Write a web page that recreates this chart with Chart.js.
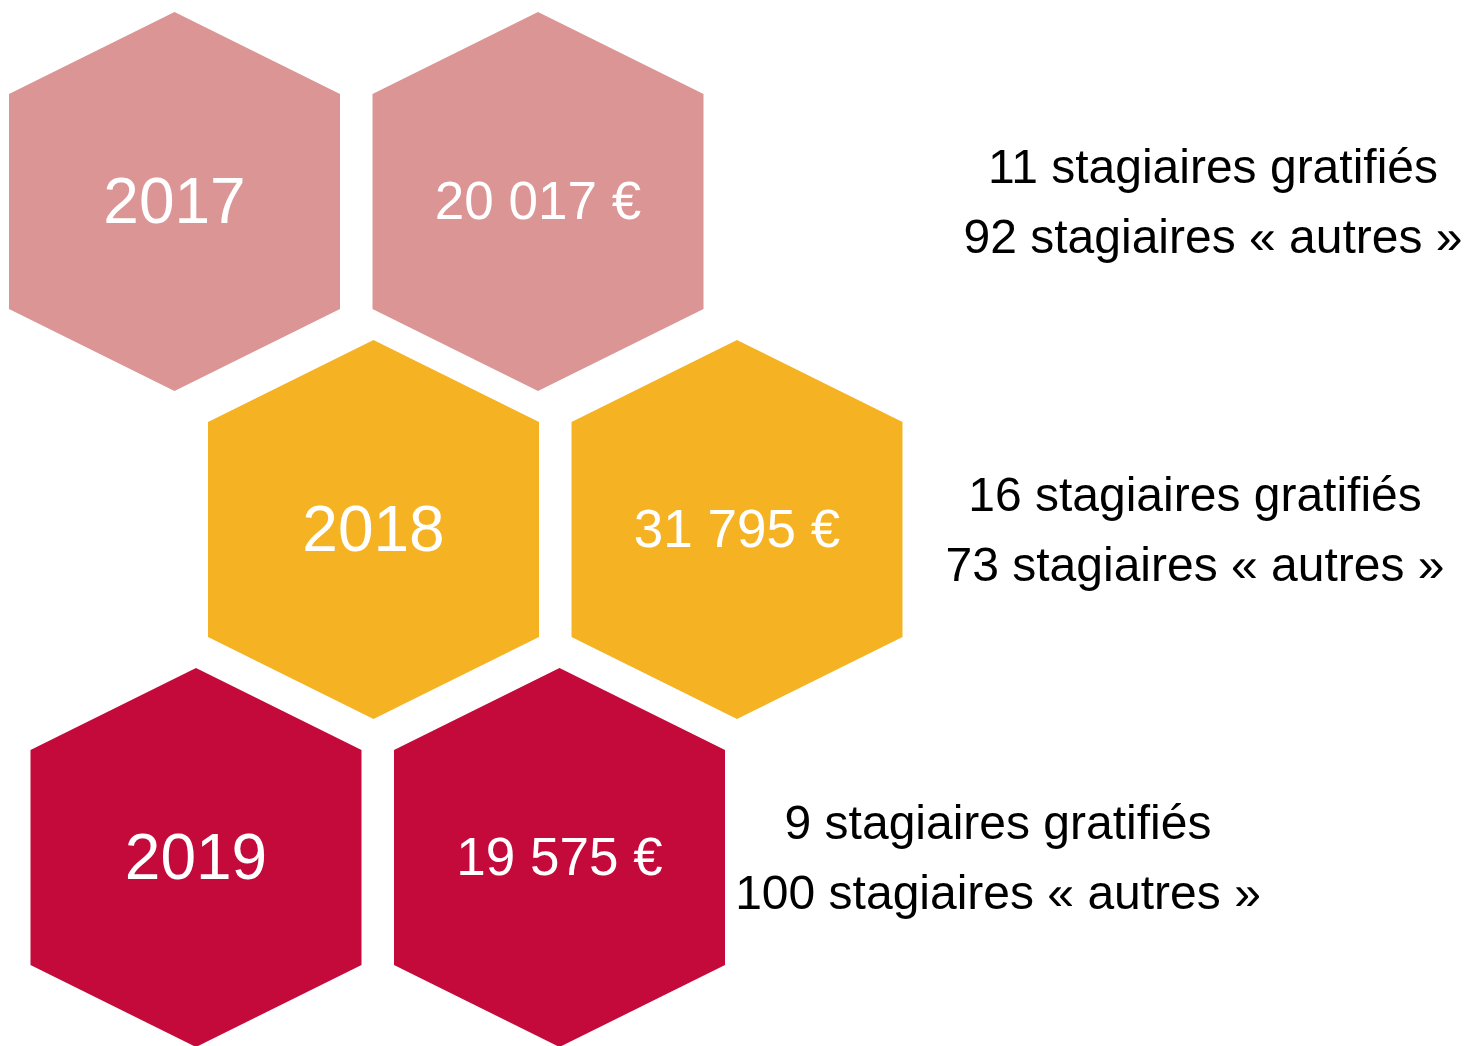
<!DOCTYPE html>
<html>
<head>
<meta charset="utf-8">
<script src="https://cdn.jsdelivr.net/npm/chart.js@4/dist/chart.umd.min.js"></script>
<style>
html,body{margin:0;padding:0;background:#fff;}
#wrap{width:1467px;height:1046px;position:relative;}
</style>
</head>
<body>
<div id="wrap"><canvas id="c"></canvas></div>
<script>
// ---- data ----
const years = ['2017', '2018', '2019'];
const amounts = [20017, 31795, 19575];
const gratifies = [11, 16, 9];
const autres = [92, 73, 100];

// ---- layout / style ----
const colors = ['#DA9594', '#F5B324', '#C40A3B'];
const rowShift = [174.5, 373.5, 196];     // x of first hexagon per row (x-scale units)
const colGap = 363.5;
const textCenter = [1213, 1195, 998];
const HEX = {halfW: 165.5, shoulder: 82, halfH: 189.5};

function fmtEuro(v){ return String(v).replace(/\B(?=(\d{3})+(?!\d))/g, ' ') + ' €'; }

const yearPts = years.map((y, i) => ({x: rowShift[i], y: y}));
const amountPts = years.map((y, i) => ({x: rowShift[i] + colGap, y: y}));

const hexPlugin = {
  id: 'hexes',
  afterDatasetsDraw(chart) {
    const ctx = chart.ctx;
    const xs = chart.scales.x;
    chart.data.datasets.forEach((ds, di) => {
      const meta = chart.getDatasetMeta(di);
      meta.data.forEach((el, i) => {
        const cx = el.x, cy = el.y;
        ctx.save();
        ctx.fillStyle = colors[i];
        ctx.beginPath();
        ctx.moveTo(cx, cy - HEX.halfH);
        ctx.lineTo(cx + HEX.halfW, cy - HEX.halfH + HEX.shoulder);
        ctx.lineTo(cx + HEX.halfW, cy + HEX.halfH - HEX.shoulder);
        ctx.lineTo(cx, cy + HEX.halfH);
        ctx.lineTo(cx - HEX.halfW, cy + HEX.halfH - HEX.shoulder);
        ctx.lineTo(cx - HEX.halfW, cy - HEX.halfH + HEX.shoulder);
        ctx.closePath();
        ctx.fill();
        ctx.fillStyle = '#ffffff';
        ctx.textAlign = 'center';
        ctx.textBaseline = 'alphabetic';
        if (di === 0) {
          ctx.font = '64px "Liberation Sans", Arial, sans-serif';
          ctx.fillText(years[i], cx, cy + 21);
        } else {
          ctx.font = '53px "Liberation Sans", Arial, sans-serif';
          ctx.fillText(fmtEuro(amounts[i]), cx, cy + 17);
        }
        ctx.restore();
      });
    });
    // side texts
    const ys = chart.scales.y;
    years.forEach((y, i) => {
      const cy = ys.getPixelForValue(i);
      const tx = xs.getPixelForValue(textCenter[i]);
      ctx.save();
      ctx.fillStyle = '#000';
      ctx.textAlign = 'center';
      ctx.textBaseline = 'alphabetic';
      ctx.font = '48px "Liberation Sans", Arial, sans-serif';
      ctx.fillText(gratifies[i] + ' stagiaires gratifiés', tx, cy - 19);
      ctx.fillText(autres[i] + ' stagiaires « autres »', tx, cy + 51);
      ctx.restore();
    });
  }
};

new Chart(document.getElementById('c'), {
  type: 'scatter',
  data: {
    labels: years,
    datasets: [
      {label: 'Année', data: yearPts, pointRadius: 0, pointHoverRadius: 0},
      {label: 'Montant', data: amountPts, pointRadius: 0, pointHoverRadius: 0}
    ]
  },
  options: {
    responsive: true,
    maintainAspectRatio: false,
    animation: false,
    layout: {padding: {top: 37.5, bottom: 24.5, left: 0, right: 0}},
    plugins: {legend: {display: false}, tooltip: {enabled: false}},
    events: [],
    scales: {
      x: {type: 'linear', min: 0, max: 1467, display: false},
      y: {type: 'category', labels: years, offset: true, display: false}
    }
  },
  plugins: [hexPlugin]
});
</script>
</body>
</html>
